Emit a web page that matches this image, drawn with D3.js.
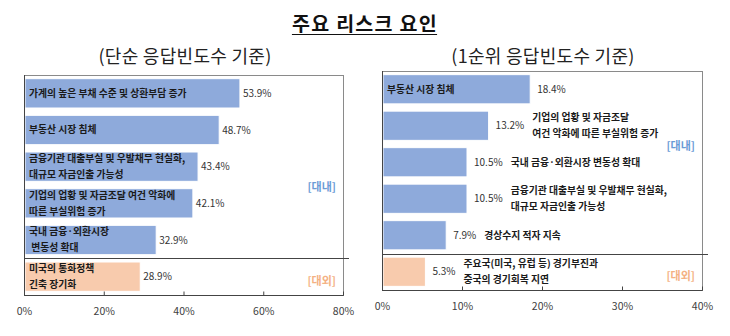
<!DOCTYPE html>
<html><head><meta charset="utf-8">
<script src="https://cdn.jsdelivr.net/npm/d3@7"></script>
<style>
html,body{margin:0;padding:0;background:#fff;}
svg{display:block;font-family:"Noto Sans CJK KR","Noto Sans",sans-serif;}
text{white-space:pre;}
</style></head>
<body><svg id="c" width="730" height="336"></svg>
<script>
const title = "주요 리스크 요인";
const leftSubtitle = "(단순 응답빈도수 기준)";
const rightSubtitle = "(1순위 응답빈도수 기준)";

const leftCats = [
  "가계의 높은 부채 수준 및 상환부담 증가",
  "부동산 시장 침체",
  "금융기관 대출부실 및 우발채무 현실화,\n대규모 자금인출 가능성",
  "기업의 업황 및 자금조달 여건 악화에\n따른 부실위험 증가",
  "국내 금융·외환시장\n 변동성 확대",
  "미국의 통화정책\n긴축 장기화"
];
const leftVals = [53.9, 48.7, 43.4, 42.1, 32.9, 28.9];
const leftGroups = ["대내","대내","대내","대내","대내","대외"];
const leftTicks = [0, 20, 40, 60, 80];

const rightCats = [
  "부동산 시장 침체",
  "기업의 업황 및 자금조달\n여건 악화에 따른 부실위험 증가",
  "국내 금융·외환시장 변동성 확대",
  "금융기관 대출부실 및 우발채무 현실화,\n대규모 자금인출 가능성",
  "경상수지 적자 지속",
  "주요국(미국, 유럽 등) 경기부진과\n중국의 경기회복 지연"
];
const rightVals = [18.4, 13.2, 10.5, 10.5, 7.9, 5.3];
const rightGroups = ["대내","대내","대내","대내","대내","대외"];
const rightTicks = [0, 10, 20, 30, 40];

const groupNames = ["대내", "대외"];

const svg = d3.select("#c");
const colBar = {"대내": "#8eaadb", "대외": "#f8cbad"};
const colGroup = {"대내": "#6a9bd6", "대외": "#f4b183"};

// Title
const t = svg.append("text").attr("x", 365).attr("y", 31).attr("text-anchor", "middle")
  .attr("font-size", 19.5).attr("letter-spacing", 1.3).attr("font-weight", "bold").attr("fill", "#111").text(title);
const tb = t.node().getBBox();
svg.append("line").attr("x1", tb.x).attr("x2", tb.x + tb.width - 1).attr("y1", 34.5).attr("y2", 34.5)
  .attr("stroke", "#111").attr("stroke-width", 1.2);

function panel(cfg) {
  const {cats, vals, groups, ticks, x0, x1, yTop, yBot, max, subtitle, subX, inside, innerRow} = cfg;
  const g = svg.append("g");
  g.append("text").attr("x", subX).attr("y", 63).attr("text-anchor", "middle")
    .attr("font-size", 18).attr("letter-spacing", 0.3).attr("fill", "#222").text(subtitle);

  const x = d3.scaleLinear().domain([0, max]).range([x0, x1]);
  const y = d3.scaleBand().domain(d3.range(cats.length)).range([yTop, yBot])
    .paddingInner(0.2).paddingOuter(0.1);

  // frame
  g.append("rect").attr("x", x0 + 0.5).attr("y", yTop + 0.5).attr("width", x1 - x0).attr("height", yBot - yTop)
    .attr("fill", "none").attr("stroke", "#8a8a8a").attr("stroke-width", 1);

  // separator between groups
  const firstExt = groups.indexOf("대외");
  const sepY = Math.round((y(firstExt - 1) + y.bandwidth() + y(firstExt)) / 2) + 0.5;
  g.append("line").attr("x1", x0).attr("x2", x1 + 6).attr("y1", sepY).attr("y2", sepY)
    .attr("stroke", "#444").attr("stroke-width", 1);

  // bars
  g.selectAll("rect.bar").data(vals).join("rect").attr("class", "bar")
    .attr("x", x(0) + 1).attr("y", (d, i) => y(i)).attr("width", d => x(d) - x(0))
    .attr("height", y.bandwidth()).attr("fill", (d, i) => colBar[groups[i]])
    .attr("stroke", "#fff").attr("stroke-width", 1);

  // axis
  const axis = d3.axisBottom(x).tickValues(ticks).tickSize(-4).tickFormat(d => d + "%").tickPadding(12);
  const ag = g.append("g").attr("transform", `translate(0,${yBot + 0.5})`).call(axis);
  ag.select(".domain").attr("stroke", "#444").attr("d", `M${x0},0H${x1 + 0.5}`);
  ag.selectAll(".tick line").attr("stroke", "#444");
  ag.selectAll(".tick text").attr("font-size", 10.5).attr("fill", "#404040")
    .attr("font-family", "\"Noto Sans CJK KR\",sans-serif");
  g.append("line").attr("x1", x0 + 0.5).attr("x2", x0 + 0.5).attr("y1", yTop).attr("y2", yBot)
    .attr("stroke", "#444");

  // labels
  vals.forEach((v, i) => {
    const cy = y(i) + y.bandwidth() / 2;
    const lines = cats[i].split("\n");
    const valT = g.append("text").attr("x", x(v) + cfg.valGap).attr("y", cy).attr("dy", "0.35em")
      .attr("font-size", 10).attr("fill", "#333").text(v.toFixed(1) + "%");
    let lx;
    if (inside(i)) lx = x0 + 5;
    else lx = x(v) + cfg.valGap + valT.node().getComputedTextLength() + 8;
    const lt = g.append("text").attr("x", lx).attr("y", cy).attr("font-size", 9.8)
      .attr("font-weight", "bold").attr("fill", "#1a1a1a");
    lines.forEach((ln, k) => {
      lt.append("tspan").attr("x", lx).attr("y", cy + (k - (lines.length - 1) / 2) * 16)
        .attr("dy", "0.35em").text(ln);
    });
  });

  // group labels
  groupNames.forEach(gn => {
    const idx = groups.map((d, i) => d === gn ? i : -1).filter(i => i >= 0);
    const gy = gn === "대내" ? y(innerRow) - 2 : y(idx[0]) + y.bandwidth() / 2 + 4;
    g.append("text").attr("x", x1 - 7).attr("y", gy).attr("dy", "0.35em").attr("text-anchor", "end")
      .attr("font-size", 11).attr("font-weight", "bold").attr("fill", colGroup[gn]).text("[" + gn + "]");
  });
}

panel({cats: leftCats, vals: leftVals, groups: leftGroups, ticks: leftTicks,
  x0: 24, x1: 343, yTop: 75, yBot: 295, max: 80, subtitle: leftSubtitle, subX: 185,
  inside: i => true, valGap: 4, innerRow: 3});
panel({cats: rightCats, vals: rightVals, groups: rightGroups, ticks: rightTicks,
  x0: 382, x1: 702, yTop: 71, yBot: 290, max: 40, subtitle: rightSubtitle, subX: 543,
  inside: i => i === 0, valGap: 8, innerRow: 2});
</script></body></html>
